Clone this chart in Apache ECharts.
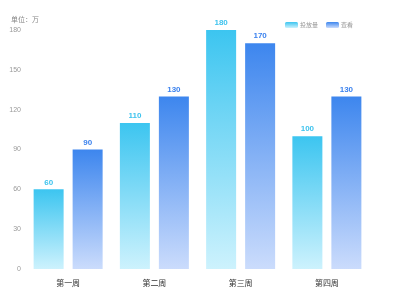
<!DOCTYPE html>
<html><head><meta charset="utf-8">
<script src="https://cdn.jsdelivr.net/npm/echarts@6/dist/echarts.min.js"></script>
<style>html,body{margin:0;padding:0;background:#fff}#c{width:400px;height:300px}</style>
</head><body><div id="c"></div>
<script>
var categories = ['第一周','第二周','第三周','第四周'];
var seriesNames = ['投放量','查看'];
var series1 = [60, 110, 180, 100];
var series2 = [90, 130, 170, 130];
var yTicks = {min: 0, max: 180, interval: 30};

var g1 = new echarts.graphic.LinearGradient(0,0,0,1,[{offset:0,color:'#3cc5f0'},{offset:1,color:'#cdf2fd'}]);
var g2 = new echarts.graphic.LinearGradient(0,0,0,1,[{offset:0,color:'#3d86ee'},{offset:1,color:'#cbdcfc'}]);
var chart = echarts.init(document.getElementById('c'), null, {renderer:'canvas'});
chart.setOption({
  animation:false,
  legend:{right:42, top:17, itemWidth:13, itemHeight:6, itemGap:8,
    textStyle:{fontSize:6, color:'#999', padding:[0,0,0,-3], fontFamily:'Noto Sans CJK SC'},
    data:[{name:seriesNames[0], itemStyle:{color:g1}},{name:seriesNames[1], itemStyle:{color:g2}}]},
  grid:{left:25, right:30, top:30, bottom:31},
  xAxis:{type:'category', data:categories,
    axisLine:{show:false}, axisTick:{show:false},
    axisLabel:{fontSize:8, color:'#333', margin:10, fontFamily:'Noto Sans CJK SC'}},
  yAxis:{type:'value', min:yTicks.min, max:yTicks.max, interval:yTicks.interval,
    name:'单位：万', nameGap:7, nameTextStyle:{fontSize:7, color:'#888', align:'left', padding:[0,0,0,-14], fontFamily:'Noto Sans CJK SC'},
    axisLine:{show:false}, axisTick:{show:false}, splitLine:{show:false},
    axisLabel:{fontSize:7, color:'#999', margin:4}},
  series:[
    {name:seriesNames[0], type:'bar', data:series1, barWidth:30, barGap:'30%',
     itemStyle:{color:g1},
     label:{show:true, position:'top', fontSize:8, fontWeight:'bold', color:'#3ec3ee', distance:3}},
    {name:seriesNames[1], type:'bar', data:series2, barWidth:30,
     itemStyle:{color:g2},
     label:{show:true, position:'top', fontSize:8, fontWeight:'bold', color:'#3b82ee', distance:3}}
  ]
});
</script></body></html>
